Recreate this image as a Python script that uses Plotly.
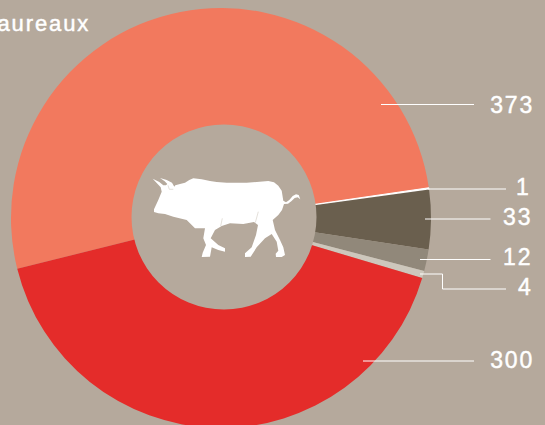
import plotly.graph_objects as go

labels = ["Salmon", "Blanc", "Brun", "Gris", "Clair", "Rouge"]
values = [373, 1, 33, 12, 4, 300]
colors = ["#f2795e", "#ffffff", "#6a5f4e", "#91887a", "#cdc7bc", "#e42c2a"]
slice_line_widths = [0, 1, 0, 0, 0, 0]
value_labels = ["373", "1", "33", "12", "4", "300"]
label_right = [533, 532, 533, 533, 534, 533]
label_y = [104.5, 187, 217, 257, 287, 360]
leaders = [
    [(381, 104.5), (474, 104.5)],
    [(428, 189), (506, 189)],
    [(425, 219), (490.5, 219)],
    [(420, 259.5), (490.5, 259.5)],
    [(420, 274), (442.5, 274), (442.5, 289), (506, 289)],
    [(363, 361), (474, 361)],
]
title_text = "taureaux"

BG = "#b5a99c"
W, H = 545, 432
CX, CY, R = 221, 218, 210
HOLE_CX, HOLE_CY, HOLE_R = 224, 217, 92.5

bull_zoom = [
    (68,56),(88,66),(100,76),(108,76),(112,72),(104,64),(90,54),(110,60),(126,68),(133,80),
    (136,76),(150,72),(165,68),(178,60),(190,55),(215,58),(240,63),(260,66),(290,68),(320,68),
    (350,68),(380,66),(415,63),(432,67),(445,77),(455,92),(460,122),(468,127),(478,120),
    (488,108),(498,103),(506,105),(511,118),(503,112),(494,114),(484,124),(474,131),
    (462,132),(456,150),(445,165),(428,180),(435,210),(450,240),(460,262),(465,285),
    (455,291),(438,291),(437,281),(445,272),(440,245),(425,222),(405,235),(380,262),
    (362,290),(345,291),(345,280),(365,262),(378,225),(384,195),(372,186),(340,192),
    (300,190),(275,198),(255,210),(242,235),(265,255),(285,265),(285,275),(265,270),
    (245,262),(240,290),(215,291),(218,278),(228,255),(220,235),(225,205),(195,205),
    (170,180),(130,170),(105,162),(85,160),(72,156),(72,148),(85,120),(95,95),(92,82),
]
bull_folds = [
    [(277,175),(272,198)],
    [(385,155),(376,188)],
    [(114,76),(118,88),(130,88)],
]

def z2p(p):
    return (130 + p[0] / 3, 160 + p[1] / 3)

def path(pts, close=False):
    s = "M" + " L".join(f"{x:.1f},{y:.1f}" for x, y in pts)
    return s + (" Z" if close else "")

fig = go.Figure(go.Pie(
    labels=labels, values=values, sort=False, direction="clockwise", rotation=256,
    hole=0.3, textinfo="none", hoverinfo="label+value",
    marker=dict(colors=colors, line=dict(width=slice_line_widths, color="#ffffff")),
    domain=dict(x=[(CX - R) / W, (CX + R) / W], y=[1 - (CY + R) / H, 1 - (CY - R) / H]),
))

shapes = [dict(type="circle", xref="x", yref="y",
               x0=HOLE_CX - HOLE_R, x1=HOLE_CX + HOLE_R,
               y0=HOLE_CY - HOLE_R, y1=HOLE_CY + HOLE_R,
               fillcolor=BG, line=dict(width=0), layer="above"),
          dict(type="path", path=path([z2p(p) for p in bull_zoom], True),
               xref="x", yref="y", fillcolor="#ffffff", line=dict(width=0), layer="above")]
for f in bull_folds:
    shapes.append(dict(type="path", path=path([z2p(p) for p in f]), xref="x", yref="y",
                       line=dict(color="#d9d3ca", width=0.7), layer="above"))
for l in leaders:
    shapes.append(dict(type="path", path=path(l), xref="x", yref="y",
                       line=dict(color="#ffffff", width=1), layer="above"))

annotations = [dict(x=x, y=y, text=t, xref="x", yref="y", xanchor="right", yanchor="middle",
                    showarrow=False, font=dict(family="Liberation Sans", size=23, color="#ffffff"))
               for t, x, y in zip(value_labels, label_right, label_y)]
annotations.append(dict(x=85, y=23.5, text=title_text, xref="x", yref="y", xanchor="right",
                        yanchor="middle", showarrow=False,
                        font=dict(family="Liberation Sans", size=22, color="#ffffff")))

fig.update_layout(
    width=W, height=H, margin=dict(l=0, r=0, t=0, b=0), autosize=False, showlegend=False,
    paper_bgcolor=BG, plot_bgcolor=BG,
    xaxis=dict(visible=False, range=[0, W], domain=[0, 1], fixedrange=True),
    yaxis=dict(visible=False, range=[H, 0], domain=[0, 1], fixedrange=True),
    shapes=shapes, annotations=annotations,
)
post = """
document.documentElement.style.overflow='hidden';
document.body.style.margin='0';document.body.style.overflow='hidden';
document.body.style.background='%s';
document.querySelectorAll('.annotation-text').forEach(function(t){
  t.style.letterSpacing='1.9px';t.style.stroke='#ffffff';t.style.strokeWidth='0.45px';});
""" % BG
fig.write_html("out.html", post_script=post, config=dict(displayModeBar=False))
